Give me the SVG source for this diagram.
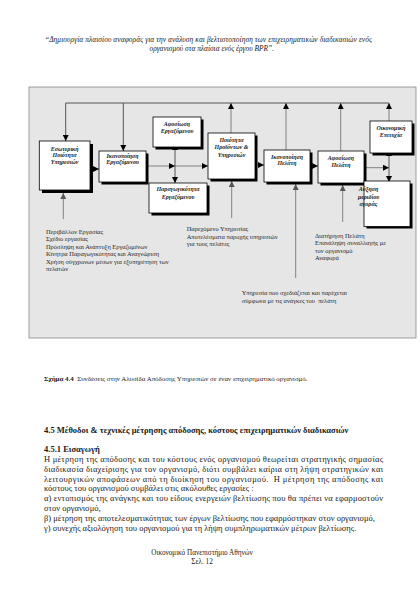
<svg xmlns="http://www.w3.org/2000/svg" width="420" height="594" viewBox="0 0 420 594">
<defs>
<style>
.t{font-family:"Liberation Serif","DejaVu Serif",serif;fill:#1a1a1a}
.hdr{font-size:7.4px;font-style:italic}
.body{font-size:8.5px}
.foot{font-size:7.2px}
.b{font-weight:bold}
.cap{font-size:6.9px}
.lbl{font-size:6px;font-weight:bold;font-style:italic;text-anchor:middle}
.lst{font-size:6.4px;fill:#222}
.box{fill:#fff;stroke:#000;stroke-width:0.8}
.sh{fill:#000}
.ln{fill:none;stroke:#444;stroke-width:0.9}
.lg{fill:none;stroke:#777;stroke-width:0.9}
</style>
<marker id="ah" viewBox="0 0 10 10" refX="10" refY="5" markerUnits="userSpaceOnUse" markerWidth="6" markerHeight="6" orient="auto"><path d="M0,0 L10,5 L0,10 z" fill="#000"/></marker>
<marker id="ahs" viewBox="0 0 10 10" refX="0" refY="5" markerUnits="userSpaceOnUse" markerWidth="6" markerHeight="6" orient="auto-start-reverse"><path d="M0,0 L10,5 L0,10 z" fill="#000"/></marker>
<marker id="ag" viewBox="0 0 10 10" refX="10" refY="5" markerUnits="userSpaceOnUse" markerWidth="6" markerHeight="6" orient="auto"><path d="M0,0 L10,5 L0,10 z" fill="#555"/></marker>
</defs>
<rect width="420" height="594" fill="#fff"/>

<text class="t hdr" x="45" y="42" textLength="327" lengthAdjust="spacing">“Δημιουργία πλαισίου αναφοράς για την ανάλυση και βελτιστοποίηση των επιχειρηματικών διαδικασιών ενός</text>
<text class="t hdr" x="211.7" y="50.5" text-anchor="middle">οργανισμού στα πλαίσια ενός έργου BPR”.</text>

<rect x="29" y="87" width="387" height="251" fill="#e6e6e6" stroke="#888" stroke-width="0.8"/>

<g id="connectors">
<path class="ln" d="M65.7,103 H389"/>
<path class="ln" d="M65.7,103 V141" marker-end="url(#ah)"/>
<path class="ln" d="M123.3,103 V151" marker-end="url(#ah)"/>
<path class="lg" d="M231,133 V103" marker-end="url(#ah)"/>
<path class="lg" d="M286,150 V103" marker-end="url(#ah)"/>
<path class="lg" d="M340.7,151 V103" marker-end="url(#ah)"/>
<path class="lg" d="M389,121 V103" marker-end="url(#ah)"/>
<path class="lg" d="M92,169 H99" marker-end="url(#ah)"/>
<path class="lg" d="M148,166 H175" marker-end="url(#ah)"/>
<path class="lg" d="M175,166 H208" marker-end="url(#ah)"/>
<path class="ln" d="M175,150 V183" marker-start="url(#ahs)" marker-end="url(#ah)"/>
<path class="lg" d="M257,165 H264" marker-end="url(#ah)"/>
<path class="lg" d="M312,166 H318" marker-end="url(#ah)"/>
<path class="lg" d="M366,167.7 H389" marker-end="url(#ah)"/>
<path class="ln" d="M389,156 V182" marker-start="url(#ahs)" marker-end="url(#ah)"/>
<path class="lg" d="M63.3,219 V193" marker-end="url(#ag)"/>
<path class="lg" d="M231.7,218 V181" marker-end="url(#ag)"/>
<path class="lg" d="M295.7,278 V184" marker-end="url(#ag)"/>
<path class="lg" d="M342.7,222 V185" marker-end="url(#ag)"/>
</g>

<g id="n1">
<rect class="sh" x="42" y="144" width="51" height="49"/>
<rect class="box" x="39.3" y="141" width="50.7" height="49"/>
<text class="t lbl" x="64.6" y="150.5">Εσωτερική</text>
<text class="t lbl" x="64.6" y="157.2">Ποιότητα</text>
<text class="t lbl" x="64.6" y="164">Υπηρεσιών</text>
</g>
<g id="n2">
<rect class="sh" x="101.5" y="153.5" width="47" height="31"/>
<rect class="box" x="99" y="151" width="47" height="31"/>
<text class="t lbl" x="122.5" y="158">Ικανοποίηση</text>
<text class="t lbl" x="122.5" y="164">Εργαζόμενου</text>
</g>
<g id="n3">
<rect class="sh" x="155.5" y="119.5" width="48" height="30"/>
<rect class="box" x="153" y="117" width="48" height="30"/>
<text class="t lbl" x="177" y="126">Αφοσίωση</text>
<text class="t lbl" x="177" y="132.5">Εργαζόμενου</text>
</g>
<g id="n4">
<rect class="sh" x="151.5" y="185.5" width="58" height="30"/>
<rect class="box" x="149" y="183" width="58" height="30"/>
<text class="t lbl" x="178" y="191">Παραγωγικότητα</text>
<text class="t lbl" x="178" y="198.5">Εργαζόμενου</text>
</g>
<g id="n5">
<rect class="sh" x="210.5" y="135.5" width="47" height="46"/>
<rect class="box" x="208" y="133" width="47" height="46"/>
<text class="t lbl" x="231.5" y="142">Ποιότητα</text>
<text class="t lbl" x="231.5" y="149.2">Προϊόντων &amp;</text>
<text class="t lbl" x="231.5" y="156.5">Υπηρεσιών</text>
</g>
<g id="n6">
<rect class="sh" x="266.5" y="152.5" width="46" height="32"/>
<rect class="box" x="264" y="150" width="46" height="32"/>
<text class="t lbl" x="287" y="158.5">Ικανοποίηση</text>
<text class="t lbl" x="287" y="165.2">Πελάτη</text>
</g>
<g id="n7">
<rect class="sh" x="320.5" y="153.5" width="46" height="32"/>
<rect class="box" x="318" y="151" width="46" height="32"/>
<text class="t lbl" x="341" y="159.5">Αφοσίωση</text>
<text class="t lbl" x="341" y="166.8">Πελάτη</text>
</g>
<g id="n8">
<rect class="sh" x="372.5" y="123.5" width="42" height="32"/>
<rect class="box" x="370" y="121" width="42" height="32"/>
<text class="t lbl" x="391" y="130">Οικονομική</text>
<text class="t lbl" x="391" y="136.8">Επιτυχία</text>
</g>
<g id="n9">
<rect class="sh" x="366.5" y="183.5" width="46" height="45"/>
<rect class="box" x="364" y="181" width="46" height="45.5"/>
<text class="t lbl" x="368.5" y="191" text-anchor="start">Αύξηση</text>
<text class="t lbl" x="368.5" y="198.5" text-anchor="start">μεριδίου</text>
<text class="t lbl" x="368.5" y="206" text-anchor="start">αγοράς</text>
</g>

<g id="notes">
<text class="t lst" x="46" y="233.5">Περιβάλλον Εργασίας</text>
<text class="t lst" x="46" y="241">Σχέδιο εργασίας</text>
<text class="t lst" x="46" y="248.5">Πρόσληψη και Ανάπτυξη Εργαζομένων</text>
<text class="t lst" x="46" y="256">Κίνητρα Παραγωγικότητας και Αναγνώριση</text>
<text class="t lst" x="46" y="263.5">Χρήση σύγχρονων μέσων για εξυπηρέτηση των</text>
<text class="t lst" x="46" y="271">πελατών</text>
<text class="t lst" x="186.7" y="231">Παρεχόμενο Υπηρεσίας</text>
<text class="t lst" x="186.7" y="238.7">Αποτελέσματα παροχής υπηρεσιών</text>
<text class="t lst" x="186.7" y="246.2">για τους πελάτες</text>
<text class="t lst" x="315" y="237.5">Διατήρηση Πελάτη</text>
<text class="t lst" x="315" y="245">Επανάληψη συναλλαγής με</text>
<text class="t lst" x="315" y="252.5">τον οργανισμό</text>
<text class="t lst" x="315" y="260">Αναφορά</text>
<text class="t lst" x="241.7" y="295">Υπηρεσία που σχεδιάζεται και παρέχεται</text>
<text class="t lst" x="241.7" y="302.7" xml:space="preserve">σύμφωνα με τις ανάγκες του  πελάτη</text>
</g>

<text class="t cap" x="44" y="381" xml:space="preserve"><tspan class="b">Σχήμα 4.4</tspan>  Συνδέσεις στην Αλυσίδα Απόδοσης Υπηρεσιών σε έναν επιχειρηματικό οργανισμό.</text>

<text class="t body b" x="44" y="433">4.5 Μέθοδοι &amp; τεχνικές μέτρησης απόδοσης, κόστους επιχειρηματικών διαδικασιών</text>
<text class="t body b" x="44" y="452">4.5.1 Εισαγωγή</text>
<text class="t body" x="44" y="462" textLength="339" lengthAdjust="spacing">Η μέτρηση της απόδοσης και του κόστους ενός οργανισμού θεωρείται στρατηγικής σημασίας</text>
<text class="t body" x="44" y="471.8" textLength="339" lengthAdjust="spacing">διαδικασία διαχείρισης για τον οργανισμό, διότι συμβάλει καίρια στη λήψη στρατηγικών και</text>
<text class="t body" x="44" y="481.6" textLength="339" lengthAdjust="spacing" xml:space="preserve">λειτουργικών αποφάσεων από τη διοίκηση του οργανισμού.  Η μέτρηση της απόδοσης και</text>
<text class="t body" x="44" y="491.4">κόστους του οργανισμού συμβάλει στις ακόλουθες εργασίες :</text>
<text class="t body" x="44" y="501.2" textLength="339" lengthAdjust="spacing">α) εντοπισμός της ανάγκης και του είδους ενεργειών βελτίωσης που θα πρέπει να εφαρμοστούν</text>
<text class="t body" x="44" y="511">στον οργανισμό,</text>
<text class="t body" x="44" y="520.8">β) μέτρηση της αποτελεσματικότητας των έργων βελτίωσης που εφαρμόστηκαν στον οργανισμό,</text>
<text class="t body" x="44" y="530.6">γ) συνεχής αξιολόγηση του οργανισμού για τη λήψη συμπληρωματικών μέτρων βελτίωσης.</text>

<text class="t foot" x="202" y="555" text-anchor="middle">Οικονομικό Πανεπιστήμιο Αθηνών</text>
<text class="t foot" x="202" y="563.5" text-anchor="middle">Σελ. 12</text>
</svg>
